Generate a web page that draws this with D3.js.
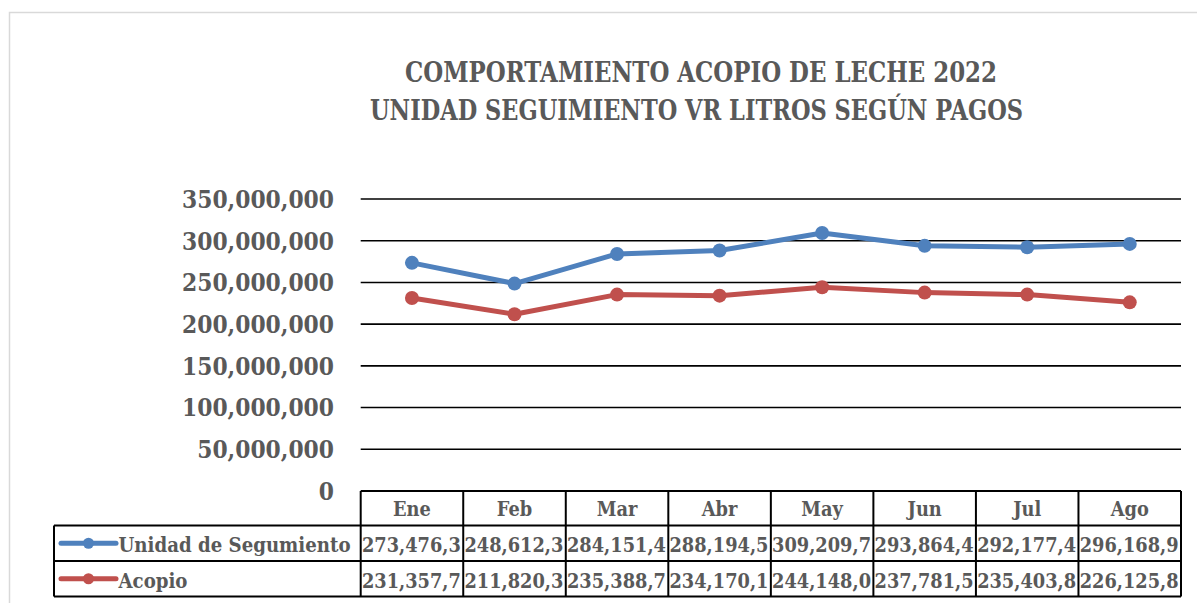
<!DOCTYPE html>
<html>
<head>
<meta charset="utf-8">
<script src="https://cdn.jsdelivr.net/npm/d3@7"></script>
<style>
  html, body { margin: 0; padding: 0; background: #fff; }
  svg { display: block; }
  text { font-family: "DejaVu Serif", serif; font-weight: bold; fill: #595959; }
</style>
</head>
<body>
<svg id="chart" width="1197" height="603"></svg>
<script>
// ---- data ----
const titleLines = ["COMPORTAMIENTO ACOPIO DE LECHE 2022", "UNIDAD SEGUIMIENTO VR LITROS SEGÚN PAGOS"];
const months = ["Ene", "Feb", "Mar", "Abr", "May", "Jun", "Jul", "Ago"];
const seriesNames = ["Unidad de Segumiento", "Acopio"];
const unidadValues = [273476300, 248612300, 284151400, 288194500, 309209700, 293864400, 292177400, 296168900];
const acopioValues = [231357700, 211820300, 235388700, 234170100, 244148000, 237781500, 235403800, 226125800];
const seriesColors = ["#4F81BD", "#C0504D"];
const yTicks = [0, 50000000, 100000000, 150000000, 200000000, 250000000, 300000000, 350000000];

const svg = d3.select("#chart");
const fmt = d3.format(",");

// natural width of a string at a size
function natWidth(str, size) {
  const t = svg.append("text").attr("font-size", size).text(str);
  const w = t.node().getComputedTextLength();
  t.remove();
  return w;
}
// apply a font size and horizontal compression k to a selection of texts
function squeeze(sel, size, k) {
  sel.attr("font-size", size).attr("lengthAdjust", "spacingAndGlyphs");
  sel.each(function () {
    const w = this.getComputedTextLength();
    d3.select(this).attr("textLength", w * k);
  });
}
const capRatio = 0.729;

// chart frame
svg.append("rect").attr("x", 9.5).attr("y", 12.5).attr("width", 1200).attr("height", 600)
  .attr("fill", "none").attr("stroke", "#d9d9d9").attr("stroke-width", 1.5);

// layout
const plotLeft = 360.7, plotRight = 1181, yZero = 491, yTop = 199;
const rowH = [491, 525.5, 561, 596.5];
const tableLeft = 54;

const x = d3.scaleBand().domain(months).range([plotLeft, plotRight]).padding(0);
const y = d3.scaleLinear().domain([0, 350000000]).range([yZero, yTop]);

// title
const titleSize = 20 / capRatio;
const titleWidths = [592, 653];
const titleX = [701, 696.5];
svg.selectAll("text.title").data(titleLines).join("text")
  .attr("class", "title")
  .attr("x", (d, i) => titleX[i]).attr("y", (d, i) => i === 0 ? 82 : 120)
  .attr("text-anchor", "middle")
  .attr("font-size", titleSize)
  .attr("lengthAdjust", "spacingAndGlyphs")
  .attr("textLength", (d, i) => titleWidths[i])
  .text(d => d);

// gridlines
svg.append("g").selectAll("line").data(yTicks.filter(d => d > 0)).join("line")
  .attr("x1", plotLeft).attr("x2", plotRight)
  .attr("y1", d => y(d)).attr("y2", d => y(d))
  .attr("stroke", "#000").attr("stroke-width", 1.6);

// y axis labels
const axisSize = 17 / capRatio;
const axisK = 152 / natWidth("350,000,000", axisSize);
const yAxis = d3.axisLeft(y).tickValues(yTicks).tickFormat(fmt).tickSize(0).tickPadding(26.7);
const yg = svg.append("g").attr("transform", `translate(${plotLeft},0)`).call(yAxis);
yg.select(".domain").remove();
yg.selectAll("text").attr("fill", "#595959").attr("font-family", null).attr("dy", "0.36em");
squeeze(yg.selectAll("text"), axisSize, axisK);

// lines and markers
const allSeries = [unidadValues, acopioValues];
const line = d3.line().x((d, i) => x(months[i]) + x.bandwidth() / 2).y(d => y(d));
allSeries.forEach((vals, s) => {
  svg.append("path").datum(vals).attr("d", line)
    .attr("fill", "none").attr("stroke", seriesColors[s]).attr("stroke-width", 5)
    .attr("stroke-linejoin", "round");
  svg.append("g").selectAll("circle").data(vals).join("circle")
    .attr("cx", (d, i) => x(months[i]) + x.bandwidth() / 2)
    .attr("cy", d => y(d)).attr("r", 7).attr("fill", seriesColors[s]);
});

// data table
const cellSize = 14.3 / capRatio;
const cellK = 99 / natWidth("273,476,3", cellSize);
const legendK = 232 / natWidth(seriesNames[0], cellSize);
const tg = svg.append("g");
// header texts
const hdr = tg.selectAll("text.hdr").data(months).join("text")
  .attr("class", "hdr")
  .attr("x", d => x(d) + x.bandwidth() / 2).attr("y", 516)
  .attr("text-anchor", "middle").text(d => d);
squeeze(hdr, cellSize, cellK);

// values: shown as the leading characters that fit inside the cell
const avail = x.bandwidth() - 2;
allSeries.forEach((vals, s) => {
  vals.forEach((v, i) => {
    let str = fmt(v);
    while (str.length > 1 && natWidth(str, cellSize) * cellK > avail) str = str.slice(0, -1);
    const t = tg.append("text")
      .attr("x", x(months[i]) + 1.2).attr("y", rowH[s + 1] + 26.5)
      .text(str);
    squeeze(t, cellSize, cellK);
  });
  // legend key + name
  const cy = (rowH[s + 1] + rowH[s + 2]) / 2;
  tg.append("line").attr("x1", 61).attr("x2", 116).attr("y1", cy).attr("y2", cy)
    .attr("stroke", seriesColors[s]).attr("stroke-width", 5).attr("stroke-linecap", "round");
  tg.append("circle").attr("cx", 88.5).attr("cy", cy).attr("r", 5.5).attr("fill", seriesColors[s]);
  const lt = tg.append("text").attr("x", 118.5).attr("y", rowH[s + 1] + 26.5).text(seriesNames[s]);
  squeeze(lt, cellSize, legendK);
});

// table borders
const bw = 2;
const bc = "#000";
tg.append("line").attr("x1", plotLeft).attr("x2", plotRight).attr("y1", rowH[0]).attr("y2", rowH[0]).attr("stroke", bc).attr("stroke-width", bw);
[1, 2, 3].forEach(k => {
  tg.append("line").attr("x1", tableLeft).attr("x2", plotRight).attr("y1", rowH[k]).attr("y2", rowH[k]).attr("stroke", bc).attr("stroke-width", bw);
});
tg.append("line").attr("x1", tableLeft).attr("x2", tableLeft).attr("y1", rowH[1]).attr("y2", rowH[3]).attr("stroke", bc).attr("stroke-width", bw);
const vx = months.map(m => x(m)).concat([plotRight]);
tg.selectAll("line.v").data(vx).join("line").attr("class", "v")
  .attr("x1", d => d).attr("x2", d => d).attr("y1", rowH[0]).attr("y2", rowH[3])
  .attr("stroke", bc).attr("stroke-width", bw);
</script>
</body>
</html>
